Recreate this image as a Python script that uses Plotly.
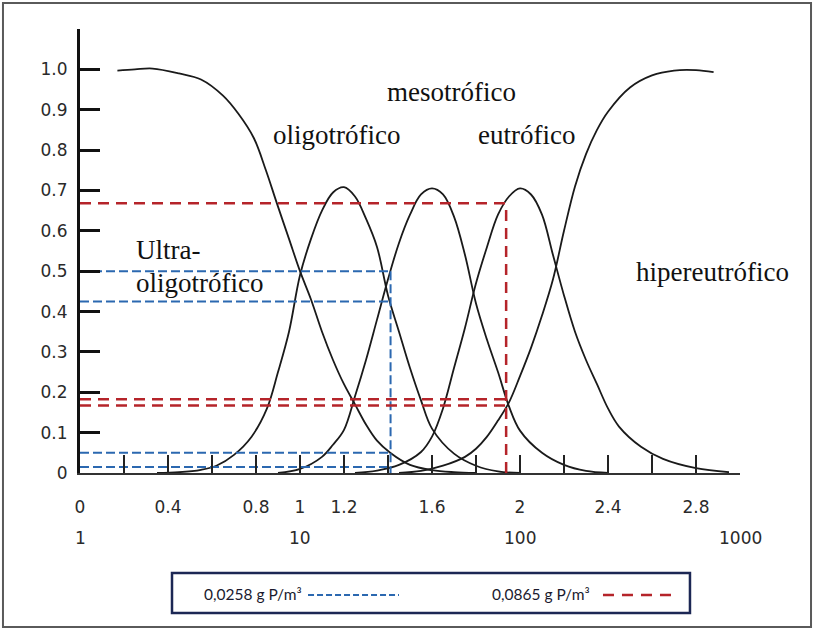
import plotly.graph_objects as go
import math

# ---------------- data ----------------
# x axis = log10(concentration in mg/m3) ; y = membership degree
ultra_x = [0.17, 0.25, 0.33, 0.45, 0.55, 0.65, 0.72, 0.79, 0.845, 0.895, 0.95, 1.0, 1.05, 1.1, 1.15, 1.2, 1.25, 1.3, 1.35, 1.41, 1.5, 1.6, 1.7, 1.8]
ultra_y = [0.997, 1.0, 1.002, 0.99, 0.975, 0.935, 0.89, 0.83, 0.75, 0.668, 0.58, 0.5, 0.43, 0.35, 0.28, 0.22, 0.17, 0.12, 0.08, 0.05, 0.02, 0.007, 0.002, 0.0]

oligo_x = [0.35, 0.45, 0.55, 0.62, 0.70, 0.78, 0.85, 0.90, 0.95, 1.00, 1.05, 1.10, 1.15, 1.20, 1.25, 1.30, 1.35, 1.40, 1.45, 1.50, 1.55, 1.60, 1.70, 1.80, 1.90, 2.00]
oligo_y = [0.0, 0.002, 0.008, 0.018, 0.045, 0.09, 0.16, 0.25, 0.35, 0.49, 0.58, 0.65, 0.695, 0.708, 0.685, 0.63, 0.56, 0.44, 0.35, 0.26, 0.18, 0.11, 0.048, 0.018, 0.004, 0.0]

meso_x = [0.90, 1.00, 1.10, 1.15, 1.20, 1.25, 1.30, 1.35, 1.40, 1.45, 1.50, 1.55, 1.60, 1.65, 1.70, 1.75, 1.80, 1.85, 1.90, 1.95, 2.00, 2.10, 2.20, 2.30, 2.40]
meso_y = [0.0, 0.01, 0.04, 0.07, 0.107, 0.19, 0.28, 0.38, 0.48, 0.57, 0.64, 0.69, 0.705, 0.69, 0.635, 0.54, 0.42, 0.33, 0.25, 0.165, 0.105, 0.05, 0.02, 0.005, 0.0]

eutro_x = [1.25, 1.35, 1.45, 1.55, 1.60, 1.65, 1.70, 1.75, 1.80, 1.85, 1.90, 1.95, 2.00, 2.05, 2.10, 2.15, 2.20, 2.25, 2.30, 2.35, 2.40, 2.45, 2.55, 2.65, 2.80, 2.95]
eutro_y = [0.0, 0.006, 0.02, 0.052, 0.09, 0.16, 0.26, 0.36, 0.47, 0.56, 0.64, 0.685, 0.705, 0.69, 0.64, 0.54, 0.44, 0.35, 0.28, 0.22, 0.16, 0.115, 0.065, 0.035, 0.012, 0.002]

hyper_x = [1.45, 1.55, 1.65, 1.75, 1.80, 1.85, 1.90, 1.95, 2.00, 2.05, 2.10, 2.15, 2.20, 2.25, 2.30, 2.35, 2.40, 2.50, 2.60, 2.70, 2.80, 2.88]
hyper_y = [0.0, 0.005, 0.018, 0.04, 0.06, 0.09, 0.13, 0.175, 0.24, 0.31, 0.39, 0.48, 0.60, 0.71, 0.79, 0.85, 0.895, 0.955, 0.985, 0.997, 0.998, 0.993]

# phosphorus concentrations (g P/m3) and memberships read at them
blue_conc = 0.0258
blue_levels = [0.50, 0.425, 0.05, 0.015]
red_conc = 0.0865
red_levels = [0.668, 0.183, 0.167]

x_tick_vals = [0, 0.2, 0.4, 0.6, 0.8, 1.0, 1.2, 1.4, 1.6, 1.8, 2.0, 2.2, 2.4, 2.6, 2.8, 3.0]
x_tick_text = ['0', '', '0.4', '', '0.8', '1', '1.2', '', '1.6', '', '2', '', '2.4', '', '2.8', '']
conc_tick_vals = [0, 1, 2, 3]
conc_tick_text = ['1', '10', '100', '1000']
y_tick_vals = [0, 0.1, 0.2, 0.3, 0.4, 0.5, 0.6, 0.7, 0.8, 0.9, 1.0, 1.1]
y_tick_text = ['0', '0.1', '0.2', '0.3', '0.4', '0.5', '0.6', '0.7', '0.8', '0.9', '1.0', '']

class_labels = ['oligotrófico', 'mesotrófico', 'eutrófico', 'Ultra-', 'oligotrófico', 'hipereutrófico']
class_label_x = [1.168, 1.69, 2.03, 0.245, 0.245, 2.877]
class_label_y = [0.837, 0.945, 0.837, 0.552, 0.47, 0.4975]
class_label_anchor = ['center', 'center', 'center', 'left', 'left', 'center']

legend_texts = ['0,0258 g P/m³', '0,0865 g P/m³']

BLUE = '#2b68b0'
RED = '#b5242a'

fig = go.Figure()

for xs, ys in [(ultra_x, ultra_y), (oligo_x, oligo_y), (meso_x, meso_y), (eutro_x, eutro_y), (hyper_x, hyper_y)]:
    fig.add_trace(go.Scatter(x=xs, y=ys, mode='lines',
                             line=dict(color='#1a1a1a', width=1.8, shape='spline', smoothing=1.0),
                             showlegend=False, hoverinfo='skip'))

bx = math.log10(blue_conc * 1000)
rx = math.log10(red_conc * 1000)

for lv in blue_levels:
    fig.add_trace(go.Scatter(x=[0, bx], y=[lv, lv], mode='lines',
                             line=dict(color=BLUE, width=2, dash='9px,4px'),
                             showlegend=False, hoverinfo='skip'))
fig.add_trace(go.Scatter(x=[bx, bx], y=[max(blue_levels), 0], mode='lines',
                         line=dict(color=BLUE, width=2, dash='9px,4px'),
                         showlegend=False, hoverinfo='skip'))
for lv in red_levels:
    fig.add_trace(go.Scatter(x=[0, rx], y=[lv, lv], mode='lines',
                             line=dict(color=RED, width=2.5, dash='11px,7px'),
                             showlegend=False, hoverinfo='skip'))
fig.add_trace(go.Scatter(x=[rx, rx], y=[0, max(red_levels)], mode='lines',
                         line=dict(color=RED, width=2.5, dash='11px,7px'),
                         showlegend=False, hoverinfo='skip'))

# class labels
for t, x, y, a in zip(class_labels, class_label_x, class_label_y, class_label_anchor):
    fig.add_annotation(x=x, y=y, text=t, showarrow=False, xanchor=a, yanchor='middle',
                       font=dict(family='Liberation Serif', size=27, color='#111111'))

# second row of x labels (concentration)
for v, t in zip(conc_tick_vals, conc_tick_text):
    fig.add_annotation(x=v, xref='x', y=-0.1464, yref='paper', text=t, showarrow=False,
                       xanchor='center', yanchor='middle',
                       font=dict(family='DejaVu Sans', size=17, color='#2a2a2a'))

# outer frame
fig.add_shape(type='rect', xref='paper', yref='paper', x0=-0.1167, x1=1.1076, y0=-0.3468, y1=1.0586,
              line=dict(color='#5a5a5a', width=2), fillcolor='rgba(0,0,0,0)')
# legend box
fig.add_shape(type='rect', xref='paper', yref='paper', x0=0.1394, x1=0.9242, y0=-0.3153, y1=-0.2252,
              line=dict(color='#1c2754', width=2.5), fillcolor='white')
fig.add_annotation(x=0.262, xref='paper', y=-0.2725, yref='paper', text=legend_texts[0], showarrow=False,
                   xanchor='center', yanchor='middle', font=dict(family='Lato', size=15.5, color='#1a1a2e'))
fig.add_annotation(x=0.6985, xref='paper', y=-0.2725, yref='paper', text=legend_texts[1], showarrow=False,
                   xanchor='center', yanchor='middle', font=dict(family='Lato', size=15.5, color='#1a1a2e'))
fig.add_shape(type='line', xref='paper', yref='paper', x0=0.3455, x1=0.4833, y0=-0.2748, y1=-0.2748,
              line=dict(color=BLUE, width=2, dash='6px,3px'))
fig.add_shape(type='line', xref='paper', yref='paper', x0=0.7924, x1=0.9061, y0=-0.2748, y1=-0.2748,
              line=dict(color=RED, width=2.5, dash='11px,8px'))

fig.update_layout(
    width=815, height=630,
    margin=dict(l=80, r=75, t=29, b=157),
    paper_bgcolor='white', plot_bgcolor='white',
    showlegend=False,
    xaxis=dict(range=[0, 3.0], tickvals=x_tick_vals, ticktext=x_tick_text,
               showgrid=False, zeroline=False, showline=True, linecolor='#333333', linewidth=2,
               ticks='inside', ticklen=18, tickwidth=2, tickcolor='#222222',
               ticklabelstandoff=18,
               tickfont=dict(family='DejaVu Sans', size=17, color='#2a2a2a')),
    yaxis=dict(range=[0, 1.1], tickvals=y_tick_vals, ticktext=y_tick_text,
               showgrid=False, zeroline=False, showline=True, linecolor='#111111', linewidth=3,
               ticks='inside', ticklen=20, tickwidth=3, tickcolor='#111111',
               ticklabelstandoff=6,
               tickfont=dict(family='DejaVu Sans', size=17, color='#2a2a2a')),
)

fig.write_html('out.html', config={'displayModeBar': False},
               post_script="document.body.style.margin='0';document.body.style.overflow='hidden';")
